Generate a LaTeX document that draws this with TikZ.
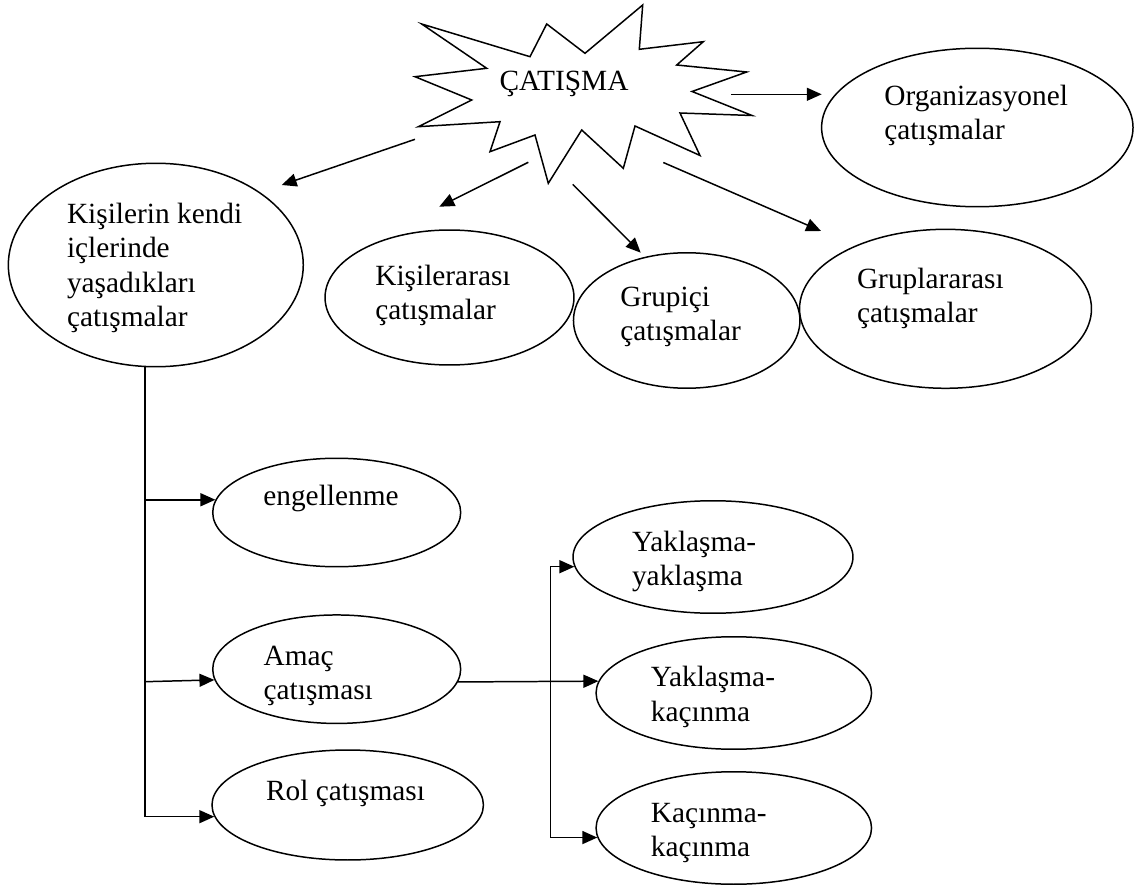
\documentclass[tikz,border=0pt]{standalone}
\usepackage{fontspec}
\setmainfont{Liberation Serif}
\usetikzlibrary{shapes.geometric, arrows.meta}
\tikzset{
  elipse/.style={ellipse, draw, line width=0.85pt, inner sep=0pt},
  etiqueta/.style={anchor=north west, inner sep=0pt, align=left, font=\fontsize{16.7}{19.5}\selectfont},
  linea/.style={line width=0.85pt}
}

\begin{document}
\begin{tikzpicture}[x=0.02cm, y=-0.02cm, >={Triangle[length=8.5pt,width=7.4pt]}]
  \useasboundingbox (0,0) rectangle (1135,888);
  % estallido central
  \draw[linea] (421.7,24) -- (530,56.7) -- (546.7,24) -- (585,53.3) -- (642.7,5) -- (639.3,49.3)
    -- (703.3,41.7) -- (676.7,65) -- (746.7,72) -- (692,91.5) -- (752,115.5) -- (680,113)
    -- (700,155.5) -- (635,126) -- (623.3,168.3) -- (581.7,130) -- (548.3,183.3) -- (535,135)
    -- (490,151.7) -- (500,121.7) -- (418.3,126.7) -- (471.7,100) -- (415,76.7) -- (486.7,68.3) -- cycle;
  \node (catisma) at (499.3,65.9) [etiqueta] {\strut ÇATIŞMA};

  % elipses
  \node (org) at (977.3,127.5) [elipse, minimum width=6.23cm, minimum height=3.17cm] {};
  \node (kisi) at (155.8,265) [elipse, minimum width=5.9cm, minimum height=4.07cm] {};
  \node (arasi) at (449.5,297.5) [elipse, minimum width=4.98cm, minimum height=2.7cm] {};
  \node (ici) at (686.7,320.5) [elipse, minimum width=4.53cm, minimum height=2.71cm] {};
  \node (gruplar) at (945.5,308.8) [elipse, minimum width=5.84cm, minimum height=3.18cm] {};
  \node (engel) at (336.7,512.5) [elipse, minimum width=4.96cm, minimum height=2.17cm] {};
  \node (amac) at (336.7,669.2) [elipse, minimum width=4.96cm, minimum height=2.17cm] {};
  \node (rol) at (347.7,805) [elipse, minimum width=5.43cm, minimum height=2.2cm] {};
  \node (yy) at (713,557) [elipse, minimum width=5.6cm, minimum height=2.25cm] {};
  \node (yk) at (733.8,693) [elipse, minimum width=5.51cm, minimum height=2.25cm] {};
  \node (kk) at (733.8,828) [elipse, minimum width=5.51cm, minimum height=2.25cm] {};

  % textos
  \node (torg) at (884,80.9) [etiqueta] {\strut Organizasyonel\\ çatışmalar};
  \node (tkisi) at (66.7,199.2) [etiqueta] {\strut Kişilerin kendi\\ içlerinde\\ yaşadıkları\\ çatışmalar};
  \node (tarasi) at (375,260.9) [etiqueta] {\strut Kişilerarası\\ çatışmalar};
  \node (tici) at (620,281.9) [etiqueta] {\strut Grupiçi\\ çatışmalar};
  \node (tgruplar) at (856.7,264.2) [etiqueta] {\strut Gruplararası\\ çatışmalar};
  \node (tengel) at (263,480.9) [etiqueta] {\strut engellenme};
  \node (tamac) at (263.3,640.9) [etiqueta] {\strut Amaç\\ çatışması};
  \node (trol) at (265.7,775.9) [etiqueta] {\strut Rol çatışması};
  \node (tyy) at (631.7,526.9) [etiqueta] {\strut Yaklaşma-\\ yaklaşma};
  \node (tyk) at (650.5,662.6) [etiqueta] {\strut Yaklaşma-\\ kaçınma};
  \node (tkk) at (650.5,797.9) [etiqueta] {\strut Kaçınma-\\ kaçınma};

  % flechas desde el estallido
  \coordinate (s-org) at (731,94.3);       \coordinate (e-org) at (821.7,94.3);
  \coordinate (s-kisi) at (415,139.3);     \coordinate (e-kisi) at (281.7,185);
  \coordinate (s-arasi) at (528.3,162.3);  \coordinate (e-arasi) at (439.3,206.7);
  \coordinate (s-ici) at (572.7,184.3);    \coordinate (e-ici) at (640.7,252.7);
  \coordinate (s-gruplar) at (663.3,162.5); \coordinate (e-gruplar) at (821,231);
  \draw[linea, ->] (s-org) -- (e-org);
  \draw[linea, ->] (s-kisi) -- (e-kisi);
  \draw[linea, ->] (s-arasi) -- (e-arasi);
  \draw[linea, ->] (s-ici) -- (e-ici);
  \draw[linea, ->] (s-gruplar) -- (e-gruplar);

  % ramas
  \coordinate (tronco) at (145,681.7);
  \coordinate (ramal) at (550.7,681.7);
  \draw[linea, ->] (kisi.south -| tronco) |- (rol.185);
  \draw[linea, ->] (tronco |- engel.174.6) -- (engel.174.6);
  \draw[linea, ->] (tronco) -- (amac.185.9);
  \draw[linea, ->] (amac.354.1) -- (yk.175.2);
  \draw[linea, <->] (yy.184.7) -| (ramal) |- (kk.184.8);
\end{tikzpicture}
\end{document}
